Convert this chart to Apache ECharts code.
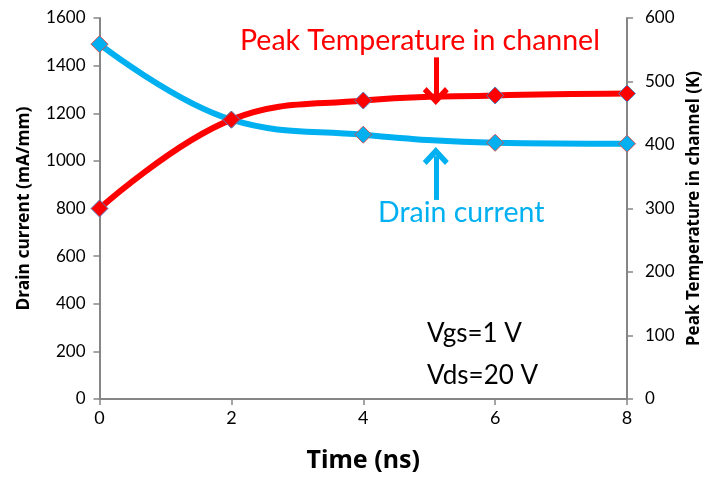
<!DOCTYPE html>
<html>
<head>
<meta charset="utf-8">
<script src="https://cdn.jsdelivr.net/npm/echarts@6/dist/echarts.min.js"></script>
<style>
  html, body { margin: 0; padding: 0; background: #fff; }
  #chart { width: 707px; height: 486px; }
</style>
</head>
<body>
<div id="chart"></div>
<script>
  'use strict';

  var timeNs = [0, 2, 4, 6, 8];
  var drainCurrent = [1490, 1173, 1110, 1076, 1072];
  var peakTemp = [300, 440, 470, 478, 481];

  // annotation arrows, in data units: [x, from, to]
  var redArrow = [5.1, 538, 477];
  var blueArrow = [5.1, 836, 1020];

  var font = 'Lato, "Open Sans", sans-serif';
  var boldFont = '"Noto Sans", "Open Sans", sans-serif';
  var axisGray = '#868686';
  var blue = '#00B0F0';
  var red = '#FF0000';
  var headPath = 'path://M0,0 L12,12 L8.5,15.5 L0,7 L-8.5,15.5 L-12,12 Z';

  function pairs(xs, ys) {
    return xs.map(function (x, i) { return [x, ys[i]]; });
  }
  function plain(v) { return String(v); }

  var chart = echarts.init(document.getElementById('chart'));

  var option = {
    animation: false,
    backgroundColor: '#fff',
    textStyle: { fontFamily: font },
    grid: { left: 99.5, right: 80, top: 18, bottom: 87, outerBoundsMode: 'none', containLabel: false },
    xAxis: {
      type: 'value',
      min: 0, max: 8, interval: 2,
      name: 'Time (ns)',
      nameLocation: 'middle',
      nameGap: 49,
      nameTextStyle: { fontFamily: boldFont, fontSize: 25, fontWeight: 'bold', color: '#000' },
      axisLine: { lineStyle: { color: axisGray, width: 2 } },
      axisTick: { show: true, length: 6, lineStyle: { color: axisGray, width: 1.5 } },
      axisLabel: { fontFamily: font, fontSize: 18, color: '#000', margin: 10, formatter: plain },
      splitLine: { show: false }
    },
    yAxis: [
      {
        type: 'value',
        min: 0, max: 1600, interval: 200,
        name: 'Drain current (mA/mm)',
        nameLocation: 'middle',
        nameRotate: 90,
        nameGap: 66,
        nameTextStyle: { fontFamily: boldFont, fontSize: 17.5, fontWeight: 'bold', color: '#000' },
        axisLine: { show: true, lineStyle: { color: axisGray, width: 2 } },
        axisTick: { show: true, length: 6, lineStyle: { color: axisGray, width: 1.5 } },
        axisLabel: { fontFamily: font, fontSize: 17, color: '#000', margin: 14, formatter: plain },
        splitLine: { show: false }
      },
      {
        type: 'value',
        min: 0, max: 600, interval: 100,
        position: 'right',
        name: 'Peak Temperature in channel (K)',
        nameLocation: 'middle',
        nameRotate: 90,
        nameGap: 58,
        nameTextStyle: { fontFamily: boldFont, fontSize: 17, fontWeight: 'bold', color: '#000' },
        axisLine: { show: true, lineStyle: { color: axisGray, width: 2 } },
        axisTick: { show: true, length: 6, lineStyle: { color: axisGray, width: 1.5 } },
        axisLabel: { fontFamily: font, fontSize: 17, color: '#000', margin: 18, formatter: plain },
        splitLine: { show: false }
      }
    ],
    series: [
      {
        name: 'Drain current',
        type: 'line',
        yAxisIndex: 0,
        smooth: 0.4,
        data: pairs(timeNs, drainCurrent),
        lineStyle: { color: blue, width: 6 },
        symbol: 'diamond',
        symbolSize: 17,
        itemStyle: { color: blue, borderColor: '#D05050', borderWidth: 1 },
        z: 2,
        markLine: {
          silent: true,
          symbol: ['none', headPath],
          symbolSize: [26, 18],
          label: { show: false },
          lineStyle: { color: blue, width: 5, type: 'solid' },
          data: [[{ coord: [blueArrow[0], blueArrow[1]] }, { coord: [blueArrow[0], blueArrow[2]] }]]
        }
      },
      {
        name: 'Peak Temperature in channel',
        type: 'line',
        yAxisIndex: 1,
        smooth: 0.4,
        data: pairs(timeNs, peakTemp),
        lineStyle: { color: red, width: 6 },
        symbol: 'diamond',
        symbolSize: 17,
        itemStyle: { color: red, borderColor: '#4F81BD', borderWidth: 1 },
        z: 3,
        markLine: {
          silent: true,
          symbol: ['none', headPath],
          symbolSize: [26, 18],
          label: { show: false },
          lineStyle: { color: red, width: 5, type: 'solid' },
          data: [[{ coord: [redArrow[0], redArrow[1]] }, { coord: [redArrow[0], redArrow[2]] }]]
        }
      }
    ],
    graphic: [
      {
        type: 'text', left: 240, top: 26,
        style: { text: 'Peak Temperature in channel', fill: red, font: '28.5px ' + font }
      },
      {
        type: 'text', left: 378, top: 198,
        style: { text: 'Drain current', fill: blue, font: '28.5px ' + font }
      },
      {
        type: 'text', left: 427, top: 321,
        style: { text: 'Vgs=1 V', fill: '#000', font: '26px ' + font }
      },
      {
        type: 'text', left: 427, top: 363,
        style: { text: 'Vds=20 V', fill: '#000', font: '26px ' + font }
      }
    ]
  };

  chart.setOption(option);
</script>
</body>
</html>
